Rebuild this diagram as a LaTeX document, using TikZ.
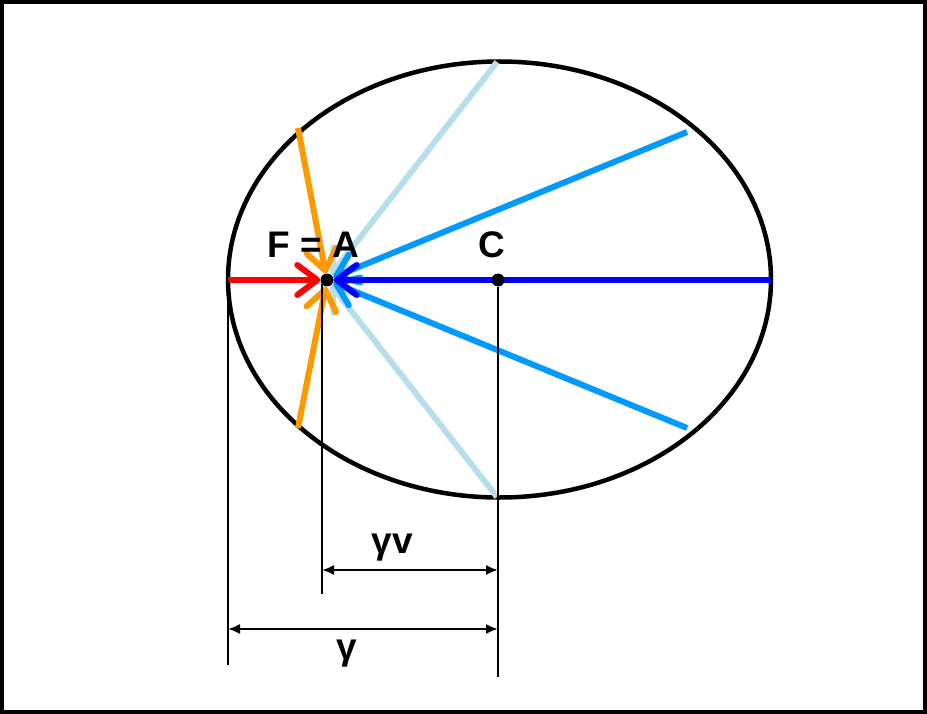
\documentclass[tikz,border=0pt]{standalone}
\usepackage{fontspec}
\setmainfont{Liberation Sans}
\usepackage{tikz}
\usetikzlibrary{arrows.meta}
\definecolor{rojo}{RGB}{255,0,0}
\definecolor{naranja}{RGB}{255,153,0}
\definecolor{celeste}{RGB}{183,222,232}
\definecolor{azulclaro}{RGB}{0,153,255}
\definecolor{azul}{RGB}{0,0,255}
\tikzstyle{ray} = [line width=6pt,-{Straight Barb[length=20pt,width=30pt,round]}]
\tikzstyle{dimline} = [line width=2pt]
\tikzstyle{dimarrow} = [line width=2pt,{Latex[length=12pt,width=10pt]}-{Latex[length=12pt,width=10pt]}]
\tikzstyle{lbl} = [font=\bfseries\fontsize{37}{44}\selectfont,anchor=base,inner sep=0pt]
\tikzstyle{punto} = [circle,inner sep=0pt,minimum size=13pt]

\begin{document}
\begin{tikzpicture}[x=1pt,y=-1pt]
	\useasboundingbox (0,0) rectangle (927,714);
	\draw[line width=4.5pt] (2,2) rectangle (925,712);
	\draw[line width=4.5pt] (499.5,279.5) ellipse [x radius=271.5, y radius=218];
	% foco y centro
	\node[punto] (A) at (327,280) {};
	\node[punto] (C) at (498,280) {};
	% extremos de los rayos
	\foreach \Nombre/\Xc/\Yc in
	{izq/228/280, der/771/280, celA/497/62, celB/497/497,
	 azA/687/132, azB/687/428, naA/298/128, naB/298/428}
	{
		\coordinate (\Nombre) at (\Xc,\Yc);
	}
	\foreach \Desde/\Col in
	{celA/celeste, celB/celeste, azA/azulclaro, azB/azulclaro,
	 der/azul, naA/naranja, naB/naranja, izq/rojo}
	{
		\draw[ray,\Col] (\Desde) -- (A);
	}
	\fill[black] (A.center) circle (6.5);
	\fill[black] (C.center) circle (6.5);
	\node[lbl] (lblFA) at (313,258) {F = A};
	\node[lbl] (lblC) at (492,258) {C};
	% cotas
	\coordinate (extIzq) at (228,665);
	\coordinate (extF) at (322,594);
	\coordinate (extC) at (498,677);
	\coordinate (topF) at (322,284);
	\draw[dimline] (izq) -- (extIzq);
	\draw[dimline] (topF) -- (extF);
	\draw[dimline] (C) -- (extC);
	\coordinate (gvL) at (322,570);
	\coordinate (gvR) at (498,570);
	\coordinate (gL) at (228,629);
	\coordinate (gR) at (498,629);
	\draw[dimarrow] (gvL) -- (gvR);
	\draw[dimarrow] (gL) -- (gR);
	\node[lbl] (lblGv) at (392.5,553) {γv};
	\node[lbl] (lblG) at (347,659) {γ};
\end{tikzpicture}
\end{document}
